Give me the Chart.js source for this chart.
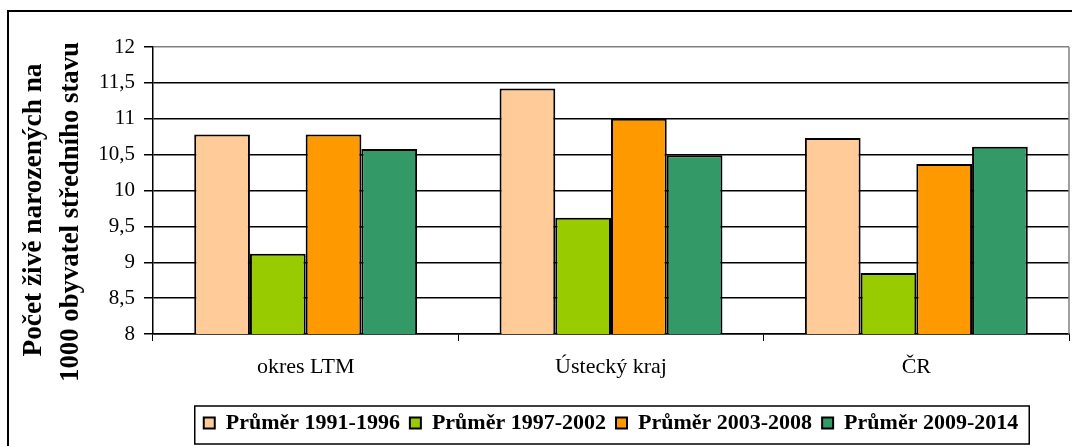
<!DOCTYPE html>
<html lang="cs">
<head>
<meta charset="utf-8">
<title>Počet živě narozených na 1000 obyvatel</title>
<script src="https://cdn.jsdelivr.net/npm/chart.js@4.4.1/dist/chart.umd.min.js"></script>
<style>
  html, body { margin: 0; padding: 0; background: #fff; }
  canvas { display: block; }
</style>
</head>
<body>
<canvas id="birthChart" width="1072" height="446"></canvas>
<script>
// data
const categories = ['okres LTM', 'Ústecký kraj', 'ČR'];
const seriesLabels = ['Průměr 1991-1996', 'Průměr 1997-2002', 'Průměr 2003-2008', 'Průměr 2009-2014'];
const avg1991 = [10.78, 11.42, 10.73];
const avg1997 = [9.12, 9.62, 8.85];
const avg2003 = [10.78, 11.0, 10.37];
const avg2009 = [10.58, 10.49, 10.61];
const yTitleLines = ['Počet živě narozených na', '1000 obyvatel středního stavu'];

const seriesColors = ['#FFCC99', '#99CC00', '#FF9900', '#339966'];
const FONT = '"Liberation Serif", "Times New Roman", serif';

// frame, plot border, legend box and the rotated axis title
const decorPlugin = {
  id: 'decor',
  beforeDraw(chart) {
    const ctx = chart.ctx;
    ctx.save();
    ctx.fillStyle = '#fff';
    ctx.fillRect(0, 0, chart.width, chart.height);
    ctx.restore();
  },
  afterDraw(chart) {
    const ctx = chart.ctx;
    const area = chart.chartArea;
    ctx.save();

    // outer frame
    ctx.strokeStyle = '#000';
    ctx.lineWidth = 2;
    ctx.beginPath();
    ctx.moveTo(8, chart.height + 2);
    ctx.lineTo(8, 11);
    ctx.lineTo(chart.width + 2, 11);
    ctx.stroke();

    // right border of plot area
    ctx.strokeStyle = '#808080';
    ctx.lineWidth = 1.5;
    ctx.beginPath();
    ctx.moveTo(area.right, area.top);
    ctx.lineTo(area.right, area.bottom);
    ctx.stroke();

    // legend box
    const lg = chart.legend;
    if (lg && lg.legendHitBoxes.length) {
      const boxes = lg.legendHitBoxes;
      const left = boxes[0].left - 9;
      const last = boxes[boxes.length - 1];
      const right = last.left + last.width + 11;
      ctx.strokeStyle = '#000';
      ctx.lineWidth = 1.5;
      ctx.strokeRect(left, 406, right - left, 38);
    }

    // y axis title, two lines, baseline on the right side
    ctx.fillStyle = '#000';
    ctx.font = 'bold 27px ' + FONT;
    ctx.textAlign = 'center';
    ctx.textBaseline = 'alphabetic';
    const lines = [
      { text: yTitleLines[0], x: 41, y: 210, len: 293 },
      { text: yTitleLines[1], x: 78, y: 212, len: 340 }
    ];
    lines.forEach(l => {
      const w = ctx.measureText(l.text).width;
      ctx.save();
      ctx.translate(l.x, l.y);
      ctx.rotate(-Math.PI / 2);
      ctx.scale(l.len / w, 1);
      ctx.fillText(l.text, 0, 0);
      ctx.restore();
    });

    ctx.restore();
  }
};

const datasets = [avg1991, avg1997, avg2003, avg2009].map((values, i) => ({
  label: seriesLabels[i],
  data: values,
  backgroundColor: seriesColors[i],
  borderColor: '#000',
  borderWidth: 2,
  borderSkipped: false,
  barPercentage: 1,
  categoryPercentage: 0.73
}));

new Chart(document.getElementById('birthChart'), {
  type: 'bar',
  data: { labels: categories, datasets },
  plugins: [decorPlugin],
  options: {
    responsive: false,
    animation: false,
    layout: { padding: { top: 47, right: 3, left: 0, bottom: 2 } },
    plugins: {
      tooltip: { enabled: false },
      legend: {
        position: 'bottom',
        fullSize: false,
        labels: {
          color: '#000',
          font: { family: FONT, size: 22, weight: 'bold' },
          boxWidth: 11,
          boxHeight: 11,
          padding: 10
        }
      }
    },
    scales: {
      x: {
        afterFit(scale) { scale.height = 68; },
        grid: {
          offset: true,
          drawOnChartArea: false,
          drawTicks: true,
          tickLength: 7,
          color: '#000'
        },
        border: { color: '#000', width: 1.5 },
        ticks: {
          color: '#000',
          padding: 13,
          font: { family: FONT, size: 22 }
        }
      },
      y: {
        min: 8,
        max: 12,
        afterFit(scale) { scale.width = 153; },
        grid: {
          color: ctx => (ctx.tick && ctx.tick.value === 12 ? '#808080' : '#000'),
          tickColor: '#000',
          lineWidth: 1.5,
          tickLength: 9
        },
        border: { color: '#000', width: 1.5 },
        ticks: {
          stepSize: 0.5,
          color: '#000',
          padding: 9,
          font: { family: FONT, size: 21 },
          callback: v => String(v).replace('.', ',')
        }
      }
    }
  }
});
</script>
</body>
</html>
